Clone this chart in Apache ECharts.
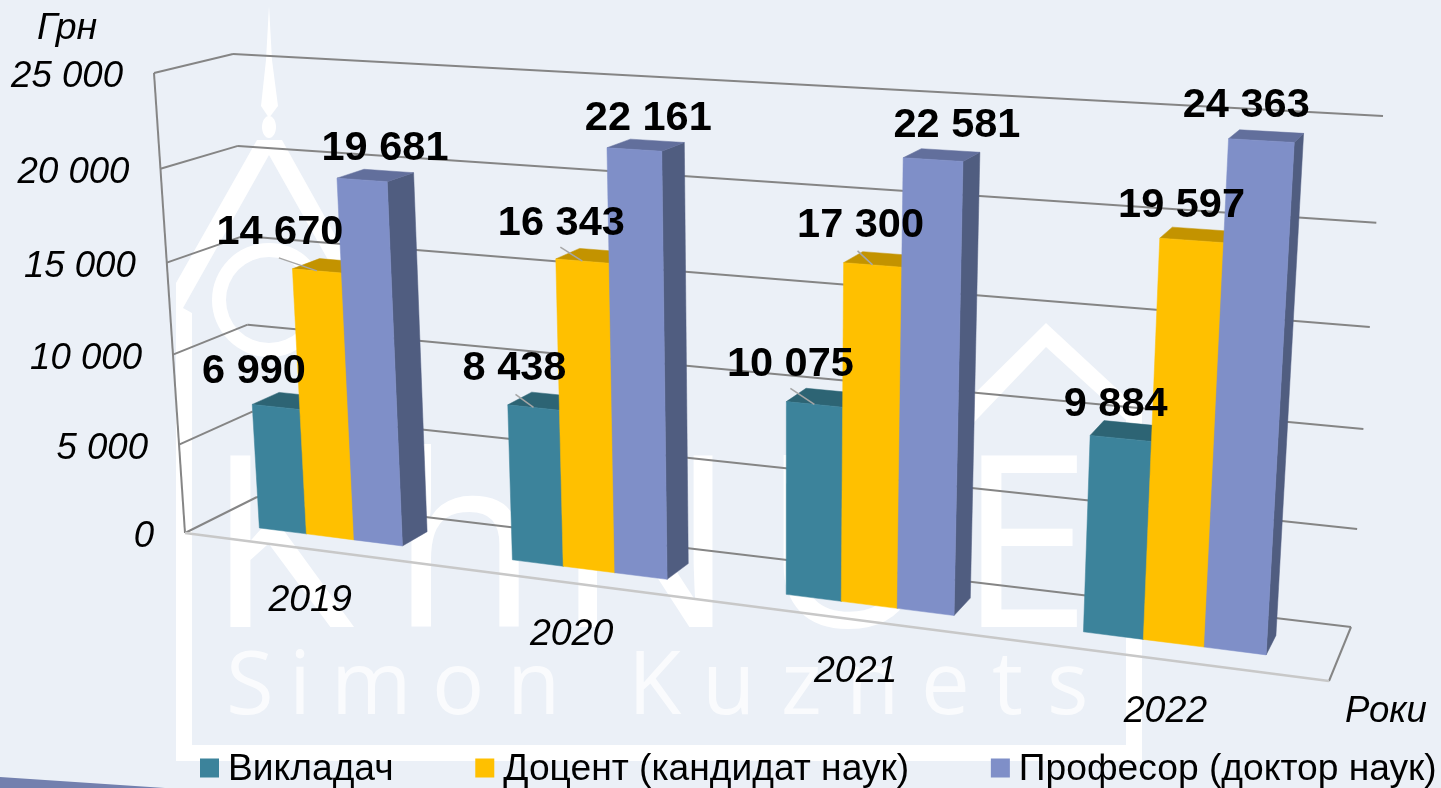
<!DOCTYPE html>
<html lang="uk">
<head>
    <meta charset="UTF-8">
    <title>Зарплата</title>
    <script src="https://cdn.jsdelivr.net/npm/echarts@6/dist/echarts.min.js"></script>
    <style>
        html, body { margin: 0; padding: 0; background: #EBF0F7; }
        #chart { width: 1441px; height: 788px; }
    </style>
</head>
<body>
    <div id="chart"></div>
    <script>
        const categories = ['2019', '2020', '2021', '2022']
        const yTicks = [0, 5000, 10000, 15000, 20000, 25000]
        const teacher = [6990, 8438, 10075, 9884]
        const docent = [14670, 16343, 17300, 19597]
        const professor = [19681, 22161, 22581, 24363]
        const seriesNames = ['Викладач', 'Доцент (кандидат наук)', 'Професор (доктор наук)']

        // front, top and side colours of each series
        const faces = [
            ['#3C839B', '#2D6474', '#2D6474'],
            ['#FFC000', '#C39300', '#C39300'],
            ['#7F8FC8', '#626F9C', '#505D80']
        ]
        // label position relative to the bar's top centre, per series, per year
        const labelShift = [
            [[-22, -35], [-19, -39], [-24, -40], [-5, -34]],
            [[-37, -38], [-21, -37], [-12, -39], [-10, -35]],
            [[23, -31], [14, -31], [24, -34], [-15, -35]]
        ]
        // start of the small leader line relative to the bar's top centre
        const leaderShift = [
            [null, [-18, -13], [-24, -16], null],
            [[-38, -13], [-22, -14], [-15, -14], null],
            [null, null, null, null]
        ]

        const grid = { left: 100, top: 100, width: 800, height: 500 }
        const groupFrac = 0.575
        const depthFront = 0.32
        const depthBack = 0.69

        // unit square -> quad
        const makeHomography = (p) => {
            const [p0, p1, p2, p3] = p
            const dx1 = p1[0] - p2[0], dx2 = p3[0] - p2[0], sx = p0[0] - p1[0] + p2[0] - p3[0]
            const dy1 = p1[1] - p2[1], dy2 = p3[1] - p2[1], sy = p0[1] - p1[1] + p2[1] - p3[1]
            const den = dx1 * dy2 - dx2 * dy1
            const g = (sx * dy2 - dx2 * sy) / den
            const h = (dx1 * sy - sx * dy1) / den
            const a = p1[0] - p0[0] + g * p1[0], b = p3[0] - p0[0] + h * p3[0], c = p0[0]
            const d = p1[1] - p0[1] + g * p1[1], e = p3[1] - p0[1] + h * p3[1], f = p0[1]
            return (u, v) => {
                const w = g * u + h * v + 1
                return [(a * u + b * v + c) / w, (d * u + e * v + f) / w]
            }
        }
        const frontPlane = makeHomography([[185, 533], [1329, 681], [1363, 140], [154, 73]])
        const backPlane = makeHomography([[257, 497], [1351, 627], [1383, 116], [233, 54]])

        // grid pixel + depth -> perspective pixel
        const project = (px, py, t) => {
            const u = (px - grid.left) / grid.width
            const v = (grid.top + grid.height - py) / grid.height
            const f = frontPlane(u, v)
            const b = backPlane(u, v)
            return [f[0] + (b[0] - f[0]) * t, f[1] + (b[1] - f[1]) * t]
        }

        const fmt = (n) => String(n).replace(/\B(?=(\d{3})+$)/g, ' ')
        const FONT = '"Liberation Sans", Arial, sans-serif'
        const tickFont = 'italic 36.6px ' + FONT
        const yearFont = 'italic 37.5px ' + FONT
        const gridColor = '#858585'
        const line = (a, b, stroke, width) => ({
            type: 'line',
            shape: { x1: a[0], y1: a[1], x2: b[0], y2: b[1] },
            style: { stroke: stroke, lineWidth: width }
        })
        const poly = (points, fill) => ({
            type: 'polygon',
            shape: { points: points },
            style: { fill: fill, stroke: fill, lineWidth: 0.5 }
        })
        const label = (x, y, text, font, align) => ({
            type: 'text',
            x: x,
            y: y,
            style: { text: text, font: font, fill: '#000', align: align || 'center', verticalAlign: 'middle' }
        })

        const barBox = (api, s) => {
            const cat = api.value(0)
            const band = api.size([1, 0])[0]
            const base = api.coord([cat, 0])
            const top = api.coord([cat, api.value(1)])
            const w = band * groupFrac / 3
            const x0 = base[0] - band * groupFrac / 2 + s * w
            return { x0: x0, x1: x0 + w, yb: base[1], yt: top[1], cat: cat }
        }

        const renderBar = (s) => (params, api) => {
            const b = barBox(api, s)
            const fbl = project(b.x0, b.yb, depthFront), fbr = project(b.x1, b.yb, depthFront)
            const ftl = project(b.x0, b.yt, depthFront), ftr = project(b.x1, b.yt, depthFront)
            const bbr = project(b.x1, b.yb, depthBack)
            const btl = project(b.x0, b.yt, depthBack), btr = project(b.x1, b.yt, depthBack)
            return {
                type: 'group',
                children: [
                    poly([fbr, bbr, btr, ftr], faces[s][2]),
                    poly([ftl, ftr, btr, btl], faces[s][1]),
                    poly([fbl, fbr, ftr, ftl], faces[s][0])
                ]
            }
        }

        const renderLabel = (params, api) => {
            const s = api.value(2)
            const b = barBox(api, s)
            const top = project((b.x0 + b.x1) / 2, b.yt, depthFront)
            const shift = labelShift[s][b.cat]
            const lead = leaderShift[s][b.cat]
            const children = []
            if (lead) {
                children.push(line([top[0] + lead[0], top[1] + lead[1]], top, '#A6A6A6', 1.5))
            }
            children.push(label(top[0] + shift[0], top[1] + shift[1], fmt(api.value(1)), 'bold 41.5px ' + FONT))
            return { type: 'group', children: children }
        }

        const renderWall = (params, api) => {
            const val = api.value(0)
            const y = api.coord([0, val])[1]
            const xl = grid.left, xr = grid.left + grid.width
            const front = project(xl, y, 0), back = project(xl, y, 1), right = project(xr, y, 1)
            const children = [
                line(front, back, gridColor, 2),
                line(back, right, gridColor, 2),
                label(front[0] - 31, front[1] + 4, fmt(val), tickFont, 'right')
            ]
            if (val === 0) {
                const fr = project(xr, y, 0)
                const top = project(xl, api.coord([0, yTicks[yTicks.length - 1]])[1], 0)
                children.push(line(front, top, gridColor, 2))
                children.push(line(fr, right, gridColor, 2))
                children.push(line(front, fr, '#C8C8C8', 2.5))
            }
            return { type: 'group', children: children }
        }

        const renderYear = (params, api) => {
            const c = api.coord([api.value(0), 0])
            const p = project(c[0], c[1], 0)
            return label(p[0] + 2, p[1] + 52, categories[api.value(0)], yearFont)
        }

        // watermark behind the chart
        const white = '#FFFFFF'
        const shape = (points) => ({
            type: 'polygon', z: -10, silent: true,
            shape: { points: points }, style: { fill: white }
        })
        const logoText = (ch, x, y, size, fill) => ({
            type: 'text', z: -10, silent: true, x: x, y: y,
            style: { text: ch, font: size + 'px "Open Sans"', fill: fill, verticalAlign: 'middle' }
        })
        const simon = [['S', 226], ['i', 289], ['m', 331], ['o', 432], ['n', 507], ['K', 628],
            ['u', 702], ['z', 781], ['n', 846], ['e', 921], ['t', 992], ['s', 1047]]
        const watermark = [
            shape([[176, 283], [257, 140], [282, 140], [360, 280], [345, 290], [269, 155], [183, 308], [192, 313],
                [192, 745], [1126, 745], [1126, 420], [1046, 347], [960, 437], [960, 408], [1046, 323],
                [1142, 412], [1142, 761], [176, 761]]),
            shape([[269, 6], [272, 60], [278, 106], [269, 118], [261, 106], [266, 60]]),
            { type: 'ellipse', z: -10, silent: true, shape: { cx: 269, cy: 127, rx: 7, ry: 11 }, style: { fill: white } },
            { type: 'ring', z: -10, silent: true, shape: { cx: 269, cy: 300, r: 57, r0: 43 }, style: { fill: white } },
            logoText('K', 207, 559, 240, white),
            logoText('h', 391, 559, 240, white),
            logoText('N', 555, 559, 240, white),
            logoText('U', 762, 559, 240, white),
            logoText('E', 958, 559, 240, white),
            { type: 'polygon', z: -9, silent: true, shape: { points: [[0, 777], [165, 788], [0, 788]] }, style: { fill: '#7380AE' } }
        ].concat(simon.map((d) => logoText(d[0], d[1], 689, 87, 'rgba(255,255,255,0.75)')))

        const values = [teacher, docent, professor]
        const labelData = []
        values.forEach((arr, s) => arr.forEach((v, i) => labelData.push([i, v, s])))

        const common = { type: 'custom', coordinateSystem: 'cartesian2d', clip: false, silent: true }
        const chart = echarts.init(document.getElementById('chart'), null, { renderer: 'canvas' })
        chart.setOption({
            animation: false,
            backgroundColor: '#EBF0F7',
            textStyle: { fontFamily: FONT },
            graphic: { elements: watermark.concat([
                { type: 'text', x: 37, y: 29, silent: true, style: { text: 'Грн', font: yearFont, fill: '#000', verticalAlign: 'middle' } },
                { type: 'text', x: 1345, y: 712, silent: true, style: { text: 'Роки', font: tickFont, fill: '#000', verticalAlign: 'middle' } }
            ]) },
            grid: grid,
            xAxis: { type: 'category', data: categories, show: false },
            yAxis: { type: 'value', min: 0, max: 25000, interval: 5000, show: false },
            legend: {
                data: seriesNames,
                left: 195,
                top: 746,
                width: 1500,
                itemWidth: 19,
                itemHeight: 22,
                itemGap: 81.7,
                // square sits in the upper part of the icon box so it lines up with the text
                icon: 'path://M0 0H19V19H0Z M0 22H19',
                selectedMode: false,
                textStyle: { fontSize: 37.2, fontFamily: FONT, color: '#000', padding: [8, 0, 0, 4] }
            },
            series: [
                Object.assign({}, common, { name: 'walls', z: 1, data: yTicks.map((v) => [v]), encode: { y: 0 }, renderItem: renderWall }),
                Object.assign({}, common, { name: 'years', z: 1, data: categories.map((c, i) => [i]), encode: { x: 0 }, renderItem: renderYear })
            ].concat(values.map((arr, s) => Object.assign({}, common, {
                name: seriesNames[s],
                z: 3 + s,
                itemStyle: { color: faces[s][0] },
                data: arr.map((v, i) => [i, v]),
                encode: { x: 0, y: 1 },
                renderItem: renderBar(s)
            }))).concat([
                Object.assign({}, common, { name: 'labels', z: 10, data: labelData, encode: { x: 0, y: 1 }, renderItem: renderLabel })
            ])
        })
    </script>
</body>
</html>
